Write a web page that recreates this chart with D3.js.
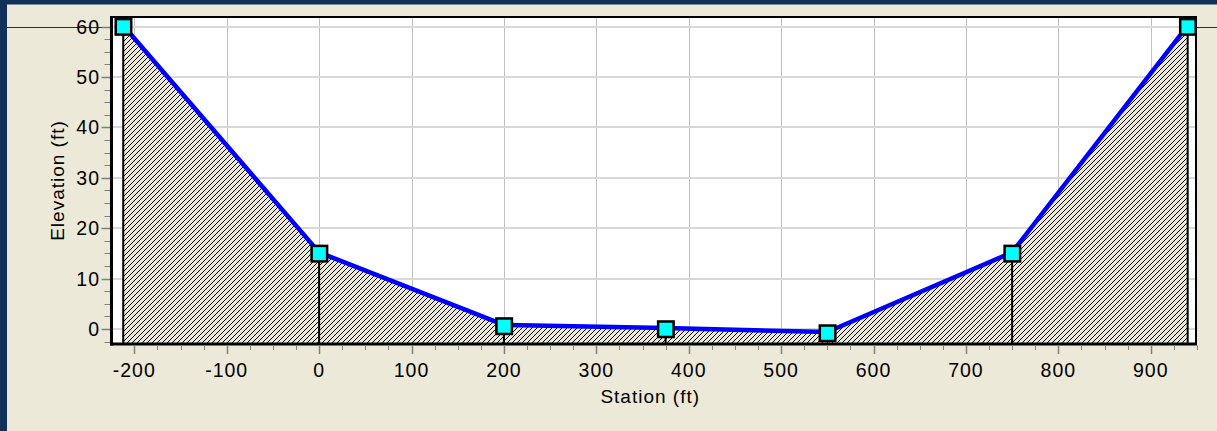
<!DOCTYPE html>
<html><head><meta charset="utf-8">
<script src="https://cdn.jsdelivr.net/npm/d3@7"></script>
<style>html,body{margin:0;padding:0;background:#ece9d8;overflow:hidden}</style>
</head><body>
<svg id="c" width="1217" height="431"></svg>
<script>
// Data
const stations = [-212, 0, 200, 375, 550, 750, 940];
const elevations = [60, 15, 0.6, 0, -0.8, 15, 60];
const bankStations = [0, 750];
const xTicks = [-200, -100, 0, 100, 200, 300, 400, 500, 600, 700, 800, 900];
const yTicks = [0, 10, 20, 30, 40, 50, 60];
const xTitle = "Station (ft)";
const yTitle = "Elevation (ft)";

const svg = d3.select("#c");
const W = 1217, H = 431;
const L = 112.5, R = 1196, T = 17, B = 344;
const x = d3.scaleLinear().domain([-223.6, 949]).range([L, R]);
const y = d3.scaleLinear().domain([-2.98, 61.9]).range([B, T]);
const pts = stations.map((s, i) => [s, elevations[i]]);

// background & frame
svg.append("rect").attr("width", W).attr("height", H).attr("fill", "#ece9d8");
svg.append("rect").attr("width", W).attr("height", 4.5).attr("fill", "#10315a");
svg.append("rect").attr("width", 7).attr("height", H).attr("fill", "#10315a");
svg.append("line").attr("x1", 7).attr("x2", W).attr("y1", Math.round(y(60)) + 0.5).attr("y2", Math.round(y(60)) + 0.5)
  .attr("stroke", "#1c3050").attr("stroke-width", 1);

// hatch pattern
const defs = svg.append("defs");
const P = 5;
const pat = defs.append("pattern").attr("id", "hatch").attr("patternUnits", "userSpaceOnUse")
  .attr("width", P).attr("height", P);
pat.append("rect").attr("width", P).attr("height", P).attr("fill", "#ece9d8");
d3.range(P).forEach(i => pat.append("rect").attr("x", P - 1 - i).attr("y", i).attr("width", 1).attr("height", 1).attr("fill", "#000"));
defs.append("clipPath").attr("id", "clip").append("rect").attr("x", L).attr("y", T).attr("width", R - L).attr("height", B - T);

// plot area
svg.append("rect").attr("x", L).attr("y", T).attr("width", R - L).attr("height", B - T).attr("fill", "#fff");

const g = svg.append("g").attr("clip-path", "url(#clip)");
// gridlines
g.selectAll(".vg").data(xTicks).join("line")
  .attr("x1", d => Math.round(x(d)) + 0.5).attr("x2", d => Math.round(x(d)) + 0.5)
  .attr("y1", T).attr("y2", B).attr("stroke", "#c0c0c0").attr("stroke-width", 1);
g.selectAll(".hg").data(yTicks).join("line")
  .attr("x1", L).attr("x2", R)
  .attr("y1", d => Math.round(y(d))).attr("y2", d => Math.round(y(d)))
  .attr("stroke", "#d8d8d8").attr("stroke-width", 2);

// ground fill
const area = d3.area().x(d => x(d[0])).y0(B).y1(d => y(d[1]));
g.append("path").datum(pts).attr("d", area).attr("fill", "url(#hatch)");

// vertical lines at end points and bank stations
const vlines = [stations[0], ...bankStations, stations[stations.length - 1], 200, 375];
const elevAt = s => elevations[stations.indexOf(s)];
g.selectAll(".vl").data(vlines).join("line")
  .attr("x1", d => x(d)).attr("x2", d => x(d))
  .attr("y1", d => y(elevAt(d))).attr("y2", B)
  .attr("stroke", "#000").attr("stroke-width", 2);

// blue line
g.append("path").datum(pts).attr("d", d3.line().x(d => x(d[0])).y(d => y(d[1]) - 1))
  .attr("fill", "none").attr("stroke", "#0000ff").attr("stroke-width", 4.5).attr("stroke-linejoin", "round");

// markers
svg.selectAll(".mk").data(pts).join("rect")
  .attr("x", d => x(d[0]) - 7.5).attr("y", d => y(d[1]) - 7.5)
  .attr("width", 15.5).attr("height", 15.5)
  .attr("fill", "#00ffff").attr("stroke", "#000").attr("stroke-width", 2.5);

// borders
svg.append("line").attr("x1", L - 1).attr("x2", L - 1).attr("y1", T - 1).attr("y2", B + 1.5).attr("stroke", "#000").attr("stroke-width", 3);
svg.append("line").attr("x1", L - 2.5).attr("x2", R + 1).attr("y1", B).attr("y2", B).attr("stroke", "#000").attr("stroke-width", 3);
svg.append("line").attr("x1", L - 2.5).attr("x2", R + 1).attr("y1", T).attr("y2", T).attr("stroke", "#000").attr("stroke-width", 2);
svg.append("line").attr("x1", R).attr("x2", R).attr("y1", T).attr("y2", B).attr("stroke", "#000").attr("stroke-width", 2);

// axes
const xMinor = d3.range(-200, 951, 25);
const yMinor = d3.range(-2.5, 62, 2.5);
const tickCol = "#808080";
svg.selectAll(".xt").data(xMinor).join("line")
  .attr("x1", d => Math.round(x(d)) + 0.5).attr("x2", d => Math.round(x(d)) + 0.5)
  .attr("y1", B + 1.5).attr("y2", d => d % 100 === 0 ? B + 10 : B + 6)
  .attr("stroke", tickCol).attr("stroke-width", d => d % 100 === 0 ? 1.5 : 1);
svg.selectAll(".yt").data(yMinor).join("line")
  .attr("y1", d => Math.round(y(d)) + 0.5).attr("y2", d => Math.round(y(d)) + 0.5)
  .attr("x1", L - 2.5).attr("x2", d => d % 10 === 0 ? L - 11 : L - 8)
  .attr("stroke", tickCol).attr("stroke-width", d => d % 10 === 0 ? 1.5 : 1);

const font = "'Liberation Sans', Arial, sans-serif";
svg.selectAll(".xl").data(xTicks).join("text")
  .attr("x", d => x(d)).attr("y", 377)
  .attr("text-anchor", "middle").attr("font-family", font).attr("font-size", 19.5).attr("letter-spacing", 1)
  .attr("fill", "#000").text(d => d);
svg.selectAll(".yl").data(yTicks).join("text")
  .attr("x", 100).attr("y", d => y(d) + 7)
  .attr("text-anchor", "end").attr("font-family", font).attr("font-size", 19.5).attr("letter-spacing", 1)
  .attr("fill", "#000").text(d => d);
svg.append("text").attr("x", (L + R) / 2 - 4).attr("y", 403).attr("text-anchor", "middle")
  .attr("font-family", font).attr("font-size", 19).attr("letter-spacing", 1).text(xTitle);
svg.append("text").attr("transform", `translate(64,${(T + B) / 2}) rotate(-90)`).attr("text-anchor", "middle")
  .attr("font-family", font).attr("font-size", 19).attr("letter-spacing", 1).text(yTitle);
</script>
</body></html>
